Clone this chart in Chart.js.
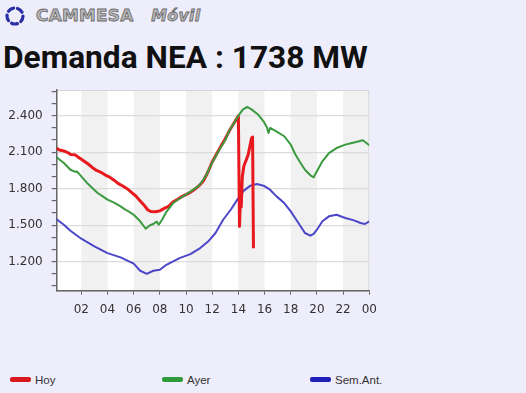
<!DOCTYPE html>
<html>
<head>
<meta charset="utf-8">
<script src="https://cdn.jsdelivr.net/npm/chart.js@4.4.1/dist/chart.umd.min.js"></script>
<style>
  html, body { margin: 0; padding: 0; }
  body {
    width: 526px; height: 393px; overflow: hidden; position: relative;
    background: #eeedfc; font-family: "Liberation Sans", Arial, sans-serif;
  }
  #logo { position: absolute; left: 3px; top: 5px; }
  #brand {
    position: absolute; left: 36px; top: 6px; font: bold 16px "DejaVu Sans", sans-serif;
    color: #b8b8b8; letter-spacing: 0.3px; transform: scaleX(1.05); transform-origin: left;
    -webkit-text-stroke: 0.8px #6a6a6a; white-space: nowrap;
  }
  #brand i { margin-left: 11px; font-size: 15px; }
  #titulo {
    position: absolute; left: 3px; top: 42px; font: bold 31.7px Roboto, sans-serif;
    line-height: 1; color: #111; white-space: nowrap;
  }
  #grafico { position: absolute; left: 0; top: 80px; }
  .leyenda { position: absolute; top: 374px; font-size: 11.5px; color: #333; }
  .leyenda span {
    display: inline-block; width: 21px; height: 5px; border-radius: 2px;
    vertical-align: middle; margin-right: 4px; position: relative; top: -1px;
  }
</style>
</head>
<body>
<svg id="logo" width="24" height="22" viewBox="0 0 24 22">
  <circle cx="12" cy="11" r="8" fill="none" stroke="#2b2fa6" stroke-width="3.2"
          stroke-dasharray="6 4" stroke-linecap="round"/>
</svg>
<div id="brand">CAMMESA <i>Móvil</i></div>
<div id="titulo">Demanda NEA : 1738 MW</div>
<canvas id="grafico" width="380" height="240"></canvas>
<div class="leyenda" style="left:10px"><span style="background:#d8161b"></span>Hoy</div>
<div class="leyenda" style="left:162px"><span style="background:#2f9a3a"></span>Ayer</div>
<div class="leyenda" style="left:310px"><span style="background:#2020b8"></span>Sem.Ant.</div>

<script>
// Hoy
const hoyHoras = ["00:05","00:20","00:40","01:00","01:10","01:30","01:50","02:10","02:30","02:50",
  "03:10","03:30","03:50","04:10","04:30","04:50","05:10","05:30","05:50","06:10","06:30","06:50",
  "07:05","07:20","07:40","08:00","08:20","08:40","09:00","09:20","09:40","10:00","10:20","10:40",
  "11:00","11:20","11:40","12:00","12:20","12:40","13:00","13:20","13:40","13:55","14:00","14:05",
  "14:09","14:13","14:18","14:25","14:45","15:00","15:05","15:09"];
const hoyMW = [2135,2118,2110,2095,2082,2080,2055,2030,2005,1975,
  1950,1935,1912,1895,1870,1842,1822,1800,1770,1740,1700,1660,
  1625,1612,1610,1618,1638,1655,1690,1712,1735,1752,1770,1795,
  1825,1865,1935,2020,2085,2150,2210,2280,2340,2385,2398,1490,
  1700,1650,1900,1985,2080,2215,2225,1310];

// Ayer
const ayerHoras = ["00:05","00:40","01:10","01:30","01:40","02:00","02:30","03:00","03:15","03:40",
  "04:00","04:30","05:00","05:20","05:40","06:00","06:30","06:55","07:15","07:30","07:45","07:55",
  "08:10","08:30","09:00","09:30","10:00","10:30","11:00","11:30","12:00","12:30","13:00","13:15",
  "13:40","14:00","14:20","14:40","15:00","15:30","15:55","16:10","16:18","16:25","16:50","17:30",
  "18:00","18:20","18:45","19:05","19:30","19:45","20:00","20:25","20:55","21:30","22:10","22:40",
  "23:00","23:30","24:00"];
const ayerMW = [2061,2011,1956,1940,1942,1902,1840,1790,1765,1735,
  1710,1685,1655,1630,1610,1586,1532,1471,1500,1510,1530,1504,
  1545,1610,1680,1720,1752,1788,1825,1900,2015,2112,2200,2265,
  2340,2400,2450,2472,2452,2410,2354,2307,2258,2299,2275,2231,
  2162,2085,2011,1956,1910,1894,1943,2025,2093,2134,2162,2176,
  2184,2198,2157];

// Semana anterior
const semHoras = ["00:05","00:40","01:10","02:00","03:00","04:00","05:00","06:00","06:30","07:00",
  "07:30","08:00","08:30","09:30","10:20","11:05","11:45","12:15","12:50","13:25","13:55","14:25",
  "14:55","15:25","15:55","16:25","16:55","17:30","18:00","18:20","18:45","19:05","19:30","19:45",
  "20:00","20:25","20:55","21:30","22:10","22:50","23:20","23:40","24:00"];
const semMW = [1551,1504,1455,1389,1326,1271,1236,1185,1126,1101,
  1126,1134,1175,1230,1263,1312,1373,1436,1545,1627,1710,1784,
  1825,1839,1825,1792,1737,1682,1614,1559,1491,1436,1414,1428,
  1463,1532,1573,1586,1559,1540,1518,1510,1532];

const ejeXHoras = [2,4,6,8,10,12,14,16,18,20,22,24];
const ejeYMarcas = [1000,1100,1200,1300,1400,1500,1600,1700,1800,1900,2000,2100,2200,2300,2400,2500,2600];
const ejeYEtiquetas = [1200,1500,1800,2100,2400];
const franjas = [[2,4],[6,8],[10,12],[14,16],[18,20],[22,24]];

function aHoras(t) {
  const p = t.split(":");
  return parseInt(p[0]) + parseInt(p[1]) / 60;
}
function puntos(horas, valores) {
  return horas.map((h, i) => ({ x: aHoras(h), y: valores[i] }));
}
function miles(v) {
  return String(v).replace(/\B(?=(\d{3})+(?!\d))/g, ".");
}

// fondo blanco + franjas grises cada 2 horas
const fondoPlugin = {
  id: "fondo",
  beforeDraw(chart) {
    const { ctx, chartArea: a, scales } = chart;
    ctx.save();
    ctx.fillStyle = "#ffffff";
    ctx.fillRect(a.left, a.top, a.right - a.left, a.bottom - a.top);
    ctx.fillStyle = "#f1f1f1";
    franjas.forEach(f => {
      const x1 = Math.max(scales.x.getPixelForValue(f[0]), a.left);
      const x2 = Math.min(scales.x.getPixelForValue(f[1]), a.right);
      ctx.fillRect(x1, a.top, x2 - x1, a.bottom - a.top);
    });
    ctx.strokeStyle = "#d4d4dc";
    ctx.lineWidth = 1;
    ctx.strokeRect(a.left, a.top + 0.5, a.right - a.left - 0.5, a.bottom - a.top);
    ctx.restore();
  }
};

const ctx = document.getElementById("grafico").getContext("2d");
new Chart(ctx, {
  type: "line",
  data: {
    datasets: [
      { label: "Ayer", data: puntos(ayerHoras, ayerMW), borderColor: "#3b9a3f", borderWidth: 2, order: 0 },
      { label: "Hoy", data: puntos(hoyHoras, hoyMW), borderColor: "#e8191e", borderWidth: 3, order: 1 },
      { label: "Sem.Ant.", data: puntos(semHoras, semMW), borderColor: "#4b47c8", borderWidth: 2, order: 2 }
    ]
  },
  options: {
    responsive: false,
    animation: false,
    events: [],
    elements: { point: { radius: 0 }, line: { tension: 0, borderJoinStyle: "round" } },
    layout: { padding: { top: 10, right: 10.7, left: 0, bottom: 0 } },
    plugins: { legend: { display: false }, tooltip: { enabled: false } },
    scales: {
      x: {
        type: "linear",
        min: 0.12,
        max: 24,
        afterBuildTicks: s => { s.ticks = ejeXHoras.map(v => ({ value: v })); },
        afterFit: s => { s.height = 29.3; s.paddingLeft = 0; s.paddingRight = 0; },
        grid: { drawOnChartArea: false, drawTicks: true, tickLength: 4, tickColor: "#666" },
        border: { color: "#666", width: 1.5 },
        ticks: {
          padding: 8,
          color: "#333",
          font: { family: "DejaVu Sans", size: 12 },
          maxRotation: 0,
          autoSkip: false,
          callback: v => String(v % 24).padStart(2, "0")
        }
      },
      y: {
        type: "linear",
        min: 962,
        max: 2611,
        afterBuildTicks: s => { s.ticks = ejeYMarcas.map(v => ({ value: v })); },
        afterFit: s => { s.width = 56.7; s.paddingTop = 0; s.paddingBottom = 0; },
        grid: {
          drawTicks: true,
          tickLength: 5,
          tickColor: "#666",
          color: c => ejeYEtiquetas.includes(c.tick && c.tick.value) ? "#dcdcdc" : "rgba(0,0,0,0)",
          lineWidth: 1.2
        },
        border: { color: "#666", width: 1.5 },
        ticks: {
          padding: 9,
          color: "#333",
          font: { family: "DejaVu Sans", size: 12 },
          autoSkip: false,
          callback: v => ejeYEtiquetas.includes(v) ? miles(v) : ""
        }
      }
    }
  },
  plugins: [fondoPlugin]
});
</script>
</body>
</html>
